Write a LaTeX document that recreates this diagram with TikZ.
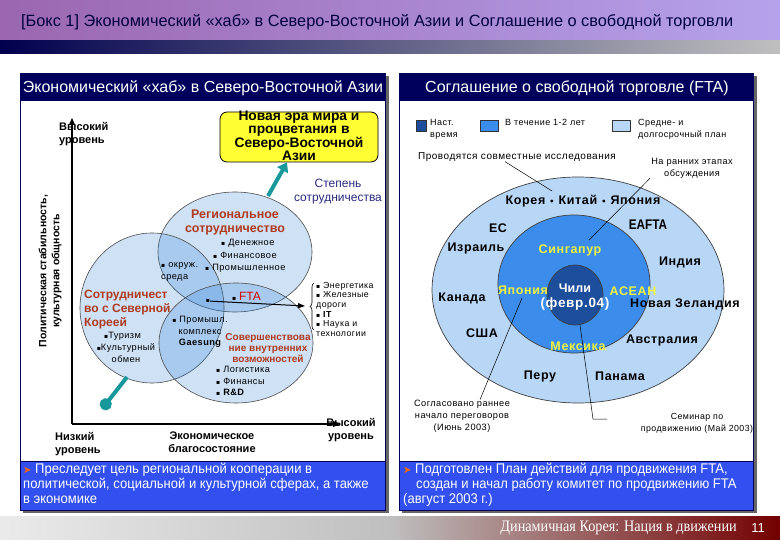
\documentclass[tikz,border=0pt]{standalone}
\usepackage{fontspec}
\setmainfont{Liberation Sans}
\newfontfamily\narrowfont[FakeStretch=0.84]{Liberation Sans}
\newfontfamily\notefont[FakeStretch=0.93]{Liberation Sans}
\newfontfamily\widefont[LetterSpace=5]{Liberation Sans}
\newfontfamily\footfont[FakeStretch=0.89]{Liberation Serif}
\newfontfamily\symfont{DejaVu Sans}
\usetikzlibrary{arrows.meta,decorations.pathreplacing}

\definecolor{hubnavy}{HTML}{00005C}
\definecolor{hubblue}{HTML}{3250F0}
\definecolor{ringlight}{HTML}{B8D6F6}
\definecolor{ringmid}{HTML}{3C8CEC}
\definecolor{ringdark}{HTML}{1C4E9C}
\definecolor{vennblue}{HTML}{1B75D4}
\definecolor{brick}{HTML}{B03A20}
\definecolor{hubteal}{HTML}{18989A}
\definecolor{lemon}{HTML}{FFFF33}
\definecolor{ylabel}{HTML}{F2F23C}
\definecolor{degree}{HTML}{2A2A80}

\newcommand{\sq}{{\symfont\fontsize{6}{6}\selectfont\char"25AA}}
\newcommand{\fs}[2]{\fontsize{#1}{#2}\selectfont}

\tikzset{
  vennset/.style={draw=black!70, line width=0.6pt, fill=vennblue, fill opacity=0.21},
  ring/.style={draw=black!75, line width=0.7pt},
  axislbl/.style={font=\bfseries\fs{11}{13}, align=left, inner sep=0pt},
  brickbold/.style={font=\bfseries\fs{12.5}{14}, text=brick, inner sep=0pt, align=center},
  item/.style={font=\widefont\fs{9.2}{11.5}, inner sep=0pt, align=left},
  country/.style={font=\widefont\bfseries\fs{12.5}{13}, inner sep=0pt},
  tinynote/.style={font=\widefont\fs{9.2}{12}, inner sep=0pt, align=center},
  teallink/.style={hubteal, line width=4pt},
  barlbl/.style={font=\fs{16}{17}, text=white, inner sep=0pt},
  boxtext/.style={font=\notefont\fs{14}{15}, text=white, inner sep=0pt, align=left, anchor=north west},
  legendsq/.style={draw=black!80, line width=0.6pt, minimum height=11pt, inner sep=0pt}
}

\begin{document}
\begin{tikzpicture}[x=1pt, y=-1pt]
  %%%%% BACKGROUND %%%%%
  \useasboundingbox (0,0) rectangle (780,540);
  \fill[white] (0,0) rectangle (780,540);
  \shade[left color=blue!45!black!30!violet!60, right color=blue!25!white!85!violet] (0,0) rectangle (780,41);
  \shade[left color=hubnavy!85!black, right color=black!25] (0,41) rectangle (780,54);
  \node[anchor=west, font=\fs{16.3}{17}, text=black!75!blue, inner sep=0pt] (title) at (21,22)
    {[Бокс 1] Экономический «хаб» в Северо-Восточной Азии и Соглашение о свободной торговли};

  \shade[left color=black!8, right color=black!25] (0,516) rectangle (390,540);
  \shade[left color=black!25, right color=red!45!black] (390,516) rectangle (780,540);
  \node[anchor=east, font=\footfont\fs{16}{17}, text=white, inner sep=0pt] (foot) at (737,528)
    {Динамичная Корея: Нация в движении};
  \node[anchor=east, font=\fs{13}{15}, text=white, inner sep=0pt] (page) at (765,528) {11};

  %%%%% PANELS %%%%%
  \fill[black!60] (23,76) rectangle (389,513);
  \fill[black!60] (402,76) rectangle (757,513);
  \draw[hubnavy, fill=white, line width=0.8pt] (20,100) rectangle (385,461);
  \draw[hubnavy, fill=white, line width=0.8pt] (399,100) rectangle (753,461);
  \fill[hubnavy] (20,73) rectangle (386,100);
  \fill[hubnavy] (399,73) rectangle (754,100);
  \node[barlbl] (lefthead) at (203,88) {Экономический «хаб» в Северо-Восточной Азии};
  \node[barlbl] (righthead) at (577,88) {Соглашение о свободной торговле (FTA)};
  \draw[hubnavy, fill=hubblue, line width=0.8pt] (20,461) rectangle (385,510);
  \draw[hubnavy, fill=hubblue, line width=0.8pt] (399,461) rectangle (753,510);

  \node[boxtext] (leftnote) at (23,463)
    {{\symfont\fs{10}{15}\color{orange!80!red}➤}\ Преследует цель региональной кооперации в\\
     политической, социальной и культурной сферах, а также\\
     в экономике};
  \node[boxtext] (rightnote) at (403,463)
    {{\symfont\fs{10}{15}\color{orange!80!red}➤}\ Подготовлен План действий для продвижения FTA,\\
     \hspace*{13pt}создан и начал работу комитет по продвижению FTA\\
     (август 2003 г.)};

  %%%%% LEFT: HUB %%%%%
  \draw[-{Triangle[length=7pt,width=6pt]}, line width=1.2pt] (72,424) -- (72,118);
  \draw[-{Triangle[length=7pt,width=6pt]}, line width=1.2pt] (72,424) -- (340,424);
  \node[axislbl, anchor=north west] (ytop) at (59,122) {Высокий\\уровень};
  \node[axislbl, font=\bfseries\fs{10.5}{13}, rotate=90, align=center] (yname) at (50,271)
    {Политическая стабильность,\\культурная общность};
  \node[axislbl, anchor=north west] (xlow) at (55,432) {Низкий\\уровень};
  \node[axislbl, anchor=north, align=center] (xname) at (212,432) {Экономическое\\благосостояние};
  \node[axislbl, anchor=north, align=center] (xhigh) at (351,418) {Высокий\\уровень};

  \path[vennset] (235,252) ellipse [x radius=77, y radius=60];
  \path[vennset] (152,308) ellipse [x radius=72, y radius=75];
  \path[vennset] (236,343) ellipse [x radius=77, y radius=60];

  \node[draw=black, fill=lemon, line width=0.8pt, rounded corners=7pt, minimum width=158pt,
        minimum height=50pt, inner sep=0pt] (goal) at (299,137) {};
  \node[font=\bfseries\fs{13.8}{13}, align=center, inner sep=0pt] (goaltext) at (299,136)
    {Новая эра мира и\\процветания в\\Северо-Восточной\\Азии};
  \coordinate (coop) at (268,196);
  \draw[teallink, -{Triangle[length=9pt,width=12pt]}] (coop) -- ([xshift=-12pt]goal.south);
  \coordinate (nkedge) at (127,377);
  \draw[teallink, -{Circle[length=12pt]}] (nkedge) -- (102,409);
  \node[font=\fs{12}{14}, text=degree, align=center, inner sep=0pt] (degree) at (338,192)
    {Степень\\сотрудничества};

  \node[brickbold] (region) at (235,222) {Региональное\\сотрудничество};
  \node[item, anchor=west] (money) at (221,243) {\sq\ Денежное};
  \node[item, anchor=west] (finance) at (213,255) {\sq\ Финансовое};
  \node[item, anchor=west] (environ) at (161,272) {\sq\ окруж.\\среда};
  \node[item, anchor=west] (industry) at (205,268) {\sq\ Промышленное};
  \node[inner sep=0pt, anchor=west] (fta) at (232,296) {\sq\ {\fs{12}{13}\color{red!85!black}FTA}};
  \node[inner sep=0pt] (ftadot) at (208,301) {\sq};
  \coordinate (bracetip) at (305,306);
  \draw[-{Triangle[length=7pt,width=5pt]}, line width=1pt] (ftadot) -- (bracetip);
  \draw[decorate, decoration={brace, amplitude=4pt}, line width=0.6pt] (314,330) -- (314,283);
  \node[item, anchor=north west, font=\widefont\fs{8.8}{9.6}] (sectors) at (316,282)
    {\sq\ Энергетика\\\sq\ Железные\\дороги\\\sq\ {\bfseries IT}\\\sq\ Наука и\\технологии};

  \node[brickbold, anchor=north west, align=left, font=\bfseries\fs{12}{14}] (northkorea) at (84,290)
    {Сотрудничест\\во с Северной\\Кореей};
  \node[item, anchor=west] (tour) at (104,336) {\sq Туризм};
  \node[item, align=center] (culture) at (126,353) {\sq Культурный\\обмен};
  \node[item, align=center] (gaesung) at (200,332) {\sq\ Промышл.\\комплекс\\{\bfseries Gaesung}};
  \node[brickbold, font=\bfseries\fs{10}{10.6}] (inner) at (268,348) {Совершенствова\\ние внутренних\\возможностей};
  \node[item, anchor=north west, font=\widefont\fs{9.2}{11.5}] (logistics) at (216,366)
    {\sq\ Логистика\\\sq\ Финансы\\\sq\ {\bfseries R\&D}};

  %%%%% RIGHT: FTA %%%%%
  \node[legendsq, fill=ringdark, minimum width=10pt] (sqnow) at (421.5,125.5) {};
  \node[legendsq, fill=ringmid, minimum width=18pt] (sqsoon) at (489,125.5) {};
  \node[legendsq, fill=ringlight, minimum width=18pt] (sqlater) at (621,125.5) {};
  \node[item, anchor=north west, font=\widefont\fs{9}{12}] (now) at (430,119) {Наст.\\время};
  \node[item, anchor=north west, font=\widefont\fs{9}{12}] (soon) at (505,119) {В течение 1-2 лет};
  \node[item, anchor=north west, font=\widefont\fs{9}{12}] (later) at (638,119) {Средне- и\\долгосрочный план};

  \draw[ring, fill=ringlight] (578,290) ellipse [x radius=146, y radius=113];
  \draw[ring, fill=ringmid] (574,284) ellipse [x radius=76, y radius=69];
  \draw[ring, fill=ringdark] (575,295) ellipse [x radius=28, y radius=30];

  \node[tinynote, font=\widefont\fs{10}{12}] (joint) at (517,157) {Проводятся совместные исследования};
  \node[tinynote] (early) at (692,168) {На ранних этапах\\обсуждения};
  \coordinate (jointend) at (552,191);
  \coordinate (earlyend) at (589,240);
  \draw[line width=0.5pt] ([xshift=-12pt]joint.south) -- (jointend);
  \draw[line width=0.5pt] ([xshift=-42pt]early.south) -- (earlyend);

  \node[country] (cjk) at (583,201) {Корея {\symfont\fs{8}{8}•} Китай {\symfont\fs{8}{8}•} Япония};
  \node[country] (eu) at (498,228) {ЕС};
  \node[country, font=\narrowfont\bfseries\fs{14}{14}] (eafta) at (648,225) {EAFTA};
  \node[country] (israel) at (476,248) {Израиль};
  \node[country, text=ylabel] (singapore) at (570,250) {Сингапур};
  \node[country] (india) at (680,262) {Индия};
  \node[country] (canada) at (462,298) {Канада};
  \node[country, text=ylabel] (japan) at (523,290) {Япония};
  \node[country, text=white, font=\bfseries\fs{12.5}{14}] (chile) at (575,288) {Чили};
  \node[country, text=white, font=\widefont\bfseries\fs{13.5}{16}] (feb) at (575,304) {(февр.04)};
  \node[country, text=ylabel] (asean) at (633,291) {АСЕАН};
  \node[country] (nz) at (685,304) {Новая Зеландия};
  \node[country] (usa) at (482,333) {США};
  \node[country, text=ylabel] (mexico) at (578,346) {Мексика};
  \node[country] (australia) at (662,340) {Австралия};
  \node[country] (peru) at (540,376) {Перу};
  \node[country] (panama) at (620,376) {Панама};

  \node[tinynote] (agreed) at (462,416) {Согласовано раннее\\начало переговоров\\(Июнь 2003)};
  \node[tinynote, font=\widefont\fs{8.8}{12}] (seminar) at (697,423) {Семинар по\\продвижению (Май 2003)};
  \coordinate (japanend) at (522,298);
  \coordinate (chileend) at (580,325);
  \draw[line width=0.5pt] ([xshift=18pt]agreed.north) -- (japanend);
  \draw[line width=0.5pt] (chileend) -- (593,419) -- (607,419);
\end{tikzpicture}
\end{document}
